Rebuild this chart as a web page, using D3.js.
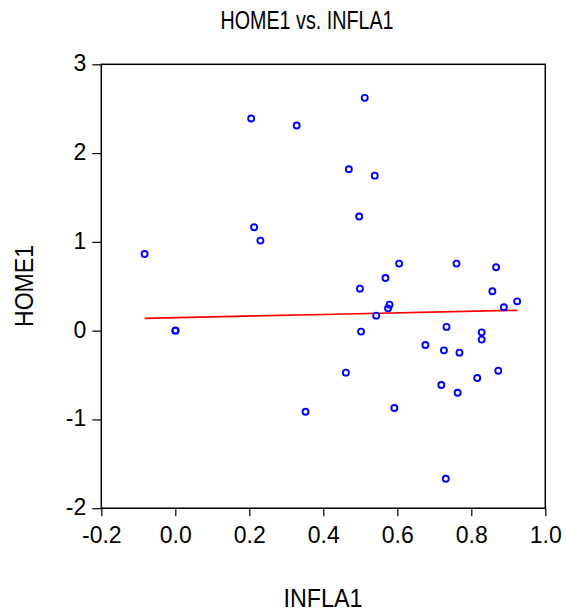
<!DOCTYPE html>
<html>
<head>
<meta charset="utf-8">
<script src="https://cdn.jsdelivr.net/npm/d3@7"></script>
<style>
  html, body { margin: 0; padding: 0; background: #fff; }
  svg { display: block; font-family: "Liberation Sans", Arial, sans-serif; }
</style>
</head>
<body>
<svg id="chart" width="566" height="612"></svg>
<script>
// ---- data ----
const inflaX = [0.205, 0.328, 0.213, 0.230, -0.083, 0.512, 0.469, 0.539, 0.497, 0.605,
                0.760, 0.867, 0.568, 0.499, 0.857, 0.924, 0.888, 0.579, 0.575, 0.543,
                0.502, 0.733, 0.828, 0.828, 0.676, 0.726, 0.768, 0.461, 0.873, 0.816,
                0.719, 0.763, 0.352, 0.592, 0.731, 0.0, 0.001];
const homeY  = [2.389, 2.310, 1.164, 1.014, 0.864, 2.622, 1.818, 1.746, 1.285, 0.755,
                0.755, 0.714, 0.593, 0.473, 0.443, 0.330, 0.263, 0.293, 0.251, 0.169,
               -0.011, 0.042, -0.019, -0.101, -0.161, -0.222, -0.248, -0.473, -0.451, -0.533,
               -0.612, -0.699, -0.913, -0.871, -1.668, 0.0, 0.002];
const fitX = [-0.083, 0.40, 0.924];
const fitY = [0.139, 0.182, 0.229];
const xTicks = [-0.2, 0.0, 0.2, 0.4, 0.6, 0.8, 1.0];
const yTicks = [-2, -1, 0, 1, 2, 3];
const titleText = "HOME1 vs. INFLA1";
const xLabel = "INFLA1";
const yLabel = "HOME1";

// ---- layout ----
const svg = d3.select("#chart");
const pLeft = 101.3, pRight = 545.3, pTop = 64.3, pBottom = 508.2;

const x = d3.scaleLinear().domain([-0.2, 1.0]).range([pLeft, pRight]);
const y = d3.scaleLinear().domain([-2, 3]).range([pBottom, pTop]);

const hyphenFmt = f => (d => f(d).replace("\u2212", "-"));

// frame
svg.append("rect")
  .attr("x", pLeft).attr("y", pTop)
  .attr("width", pRight - pLeft).attr("height", pBottom - pTop)
  .attr("fill", "none").attr("stroke", "#000").attr("stroke-width", 1.5);

// axes
const xAxis = d3.axisBottom(x).tickValues(xTicks).tickFormat(hyphenFmt(d3.format(".1f")))
  .tickSizeInner(8).tickSizeOuter(0).tickPadding(10);
const gx = svg.append("g").attr("transform", `translate(0,${pBottom})`).call(xAxis);
gx.select(".domain").remove();
gx.selectAll("line").attr("stroke", "#000").attr("stroke-width", 1.2);
gx.selectAll("text").attr("font-size", "23px").attr("fill", "#000")
  .attr("font-family", "'Liberation Sans', Arial, sans-serif");

const yAxis = d3.axisLeft(y).tickValues(yTicks).tickFormat(hyphenFmt(d3.format("d")))
  .tickSizeInner(9).tickSizeOuter(0).tickPadding(6);
const gy = svg.append("g").attr("transform", `translate(${pLeft},0)`).call(yAxis);
gy.select(".domain").remove();
gy.selectAll("line").attr("stroke", "#000").attr("stroke-width", 1.2);
gy.selectAll("text").attr("font-size", "23px").attr("fill", "#000")
  .attr("font-family", "'Liberation Sans', Arial, sans-serif")
  .attr("dy", "0.28em");

// fit line
const line = d3.line().x(d => x(d[0])).y(d => y(d[1]));
svg.append("path")
  .datum(fitX.map((v, i) => [v, fitY[i]]))
  .attr("d", line)
  .attr("fill", "none").attr("stroke", "#ff0000").attr("stroke-width", 1.7);

// points
svg.append("g").selectAll("circle")
  .data(inflaX.map((v, i) => [v, homeY[i]]))
  .join("circle")
  .attr("cx", d => x(d[0])).attr("cy", d => y(d[1]))
  .attr("r", 3)
  .attr("fill", "none").attr("stroke", "#0000ff").attr("stroke-width", 1.9);

// title & labels
svg.append("text")
  .attr("x", 307).attr("y", 29.3)
  .attr("text-anchor", "middle")
  .attr("font-size", "25px")
  .attr("textLength", 173).attr("lengthAdjust", "spacingAndGlyphs")
  .text(titleText);

svg.append("text")
  .attr("x", 323).attr("y", 607.3)
  .attr("text-anchor", "middle")
  .attr("font-size", "26px")
  .attr("textLength", 79).attr("lengthAdjust", "spacingAndGlyphs")
  .text(xLabel);

svg.append("text")
  .attr("transform", "translate(33.3,286) rotate(-90)")
  .attr("text-anchor", "middle")
  .attr("font-size", "26px")
  .attr("textLength", 82).attr("lengthAdjust", "spacingAndGlyphs")
  .text(yLabel);
</script>
</body>
</html>
